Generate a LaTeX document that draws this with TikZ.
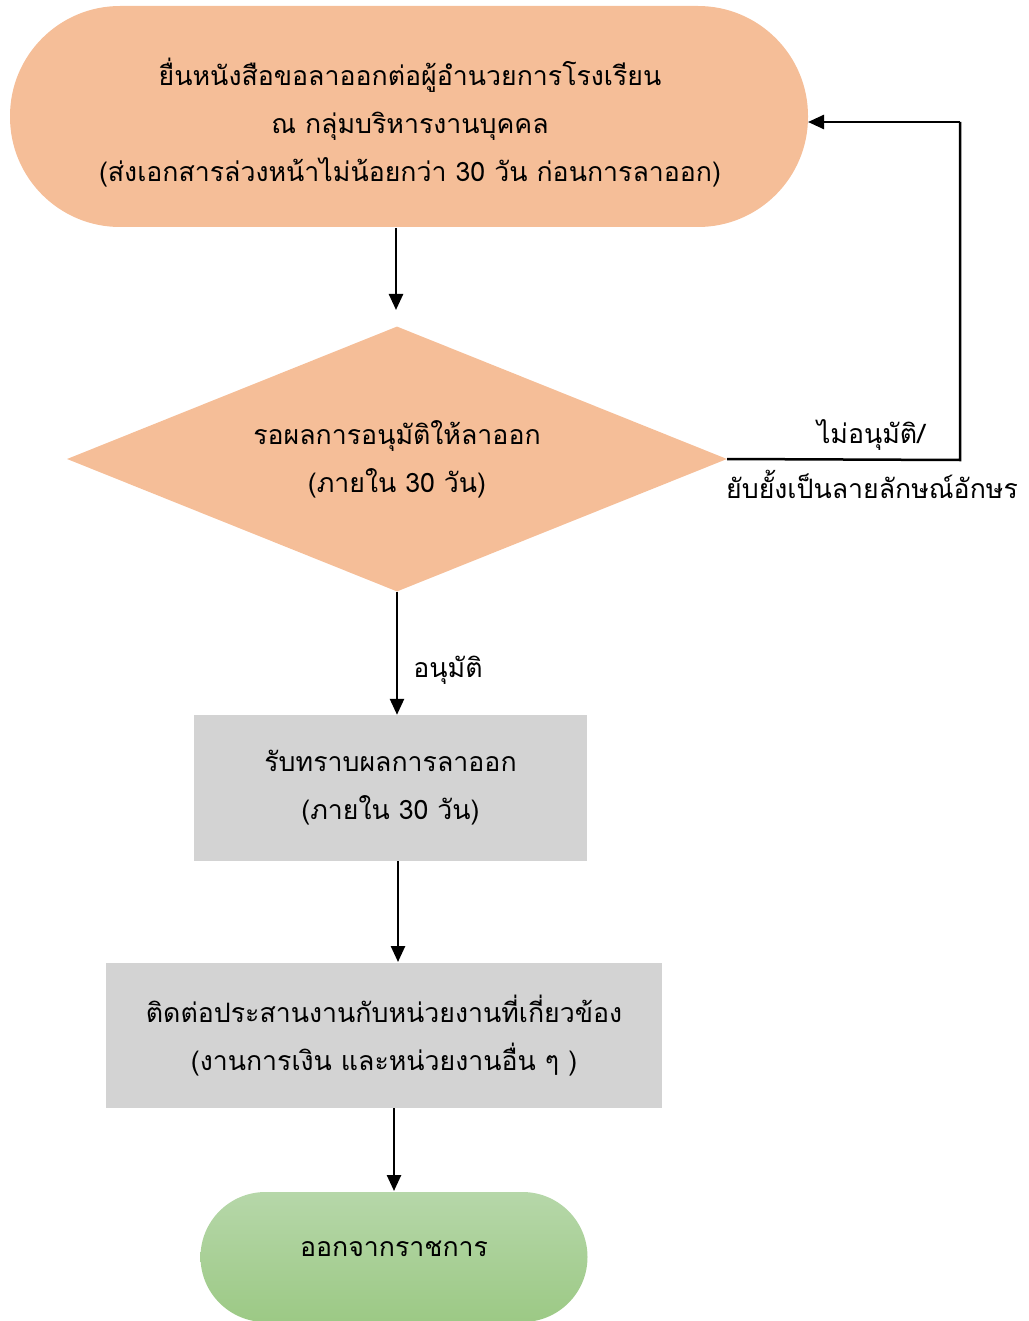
\documentclass[tikz,border=0pt]{standalone}
\usepackage{fontspec}
\setmainfont[Script=Thai]{Loma}
\usetikzlibrary{arrows.meta,shapes.geometric}
\definecolor{peach}{HTML}{F5BE98}
\definecolor{boxgray}{HTML}{D3D3D3}
\definecolor{greentop}{HTML}{B6D7A9}
\definecolor{greenbot}{HTML}{9CC985}
\tikzset{
  txt/.style={font=\fontsize{26.7}{48}\selectfont, align=center, text=black},
  conn/.style={line width=2.5pt, -{Triangle[length=16pt,width=14pt]}},
  plain/.style={line width=2.5pt},
}
\begin{document}
\begin{tikzpicture}[x=1pt,y=-1pt]
\useasboundingbox (0,0) rectangle (1028,1321);
% top terminal
\node[fill=peach, minimum width=798pt, minimum height=221pt, rounded corners=110pt, inner sep=0pt] (start) at (409,116.5) {};
\node[txt] (starttxt) at (410,123) {ยื่นหนังสือขอลาออกต่อผู้อำนวยการโรงเรียน\\ณ กลุ่มบริหารงานบุคคล\\(ส่งเอกสารล่วงหน้าไม่น้อยกว่า 30 วัน ก่อนการลาออก)};
% decision
\node[diamond, fill=peach, aspect=2.49, minimum width=660pt, minimum height=265pt, inner sep=0pt, txt] (wait) at (397,459) {รอผลการอนุมัติให้ลาออก\\(ภายใน 30 วัน)};
% boxes
\node[fill=boxgray, minimum width=393pt, minimum height=146pt, inner sep=0pt, txt] (ack) at (390.5,788) {รับทราบผลการลาออก\\(ภายใน 30 วัน)};
\node[fill=boxgray, minimum width=556pt, minimum height=145pt, inner sep=0pt, txt] (coord) at (384,1035.5) {ติดต่อประสานงานกับหน่วยงานที่เกี่ยวข้อง\\(งานการเงิน และหน่วยงานอื่น ๆ )};
% end terminal
\node[top color=greentop, bottom color=greenbot, minimum width=387pt, minimum height=130pt, rounded corners=65pt, inner sep=0pt] (finish) at (394,1257) {};
\node[txt] (finishtxt) at (394,1249) {ออกจากราชการ};
% coordinates
\coordinate (a1s) at (396,228);
\coordinate (a1e) at (396,310);
\coordinate (a3s) at (398,861);
\coordinate (a3e) at (398,962);
\coordinate (a4s) at (394,1108);
\coordinate (a4e) at (394,1191);
\coordinate (fb1) at (960,460);
\coordinate (fb2) at (960,122);
\coordinate (fb3) at (808,122);
% connectors
\draw[conn] (a1s) -- (a1e);
\draw[conn] (wait.south) -- (wait.south |- ack.north);
\draw[conn] (a3s) -- (a3e);
\draw[conn] (a4s) -- (a4e);
\draw[plain] (wait.east) -- (fb1) -- (fb2);
\draw[conn] (fb2) -- (fb3);
% labels
\node[txt] (nolbl) at (871,435) {ไม่อนุมัติ/};
\node[txt] (nolbl2) at (872,484) {ยับยั้งเป็นลายลักษณ์อักษร};
\node[txt] (yeslbl) at (448,670) {อนุมัติ};
\end{tikzpicture}
\end{document}
